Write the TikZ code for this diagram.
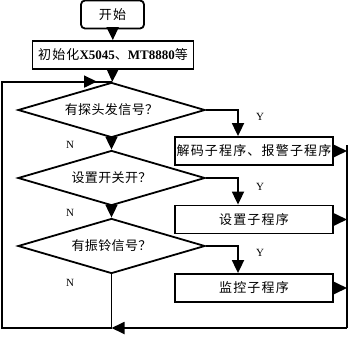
\documentclass[tikz,border=0pt]{standalone}
\usepackage{fontspec}
\setmainfont{Liberation Serif}
\newfontfamily\cjk[LetterSpace=3]{Noto Sans CJK SC}
\newfontfamily\cjkwide[LetterSpace=9]{Noto Sans CJK SC}
\usetikzlibrary{arrows.meta,shapes.geometric}
\tikzset{
  >={Triangle[length=13pt,width=12pt]},
  every node/.style={font=\fontsize{13}{15}\selectfont},
  proc/.style={draw,line width=1.8pt,minimum height=28pt,inner sep=0pt},
  startbox/.style={proc,rounded corners=4pt,minimum width=63pt},
  decide/.style={draw,diamond,line width=1.8pt,minimum width=187pt,minimum height=55pt,inner sep=0pt,aspect=3.4},
  flow/.style={->,line width=1.8pt},
  plain/.style={line width=1.8pt},
  yn/.style={font=\fontsize{11}{13}\selectfont},
}

\begin{document}
\begin{tikzpicture}[x=1pt,y=-1pt]
\useasboundingbox (0,0) rectangle (350,337);

% ---------- main column ----------
\node[startbox] (start) at (112.5,14.5) {\cjkwide 开始};
\node[proc,minimum width=161pt] (init) at (113,55) {{\cjkwide 初始化}{\bfseries X5045}{\cjk 、}{\bfseries MT8880}{\cjk 等}};
\node[decide] (d1) at (111.5,110) {\cjk 有探头发信号？};
\node[decide] (d2) at (111.5,178) {\cjk 设置开关开？};
\node[decide] (d3) at (111.5,246) {\cjk 有振铃信号？};

% ---------- sub programs ----------
\node[proc,minimum width=158pt] (b1) at (254,151) {\cjkwide 解码子程序、报警子程序};
\node[proc,minimum width=158pt] (b2) at (254,219.5) {\cjkwide 设置子程序};
\node[proc,minimum width=158pt] (b3) at (254,288) {\cjkwide 监控子程序};

\draw[flow] (start) -- (init);
\draw[flow] (init) -- (d1);
\draw[flow] (d1) -- (d2);
\draw[flow] (d2) -- (d3);
\draw[flow] (d1.east) -| ([xshift=-16pt]b1.north);
\draw[flow] (d2.east) -| ([xshift=-16pt]b2.north);
\draw[flow] (d3.east) -| ([xshift=-16pt]b3.north);

\node[yn] (y1) at (260,117) {Y};
\node[yn] (y2) at (260,187) {Y};
\node[yn] (y3) at (260,253) {Y};
\node[yn] (n1) at (70,145) {N};
\node[yn] (n2) at (70,213) {N};
\node[yn] (n3) at (70,283) {N};

% ---------- return loop ----------
\coordinate (busT) at (347,145);
\coordinate (busB) at (347,328);
\coordinate (join) at (d3.south |- busB);
\coordinate (loopL) at (2,328);
\coordinate (loopT) at (loopL |- d1.north);
\coordinate (loopM) at (97,0 |- d1.north);
\foreach \b in {b1,b2,b3} {\draw[flow] (\b.east) -- (\b.east -| busB);}
\draw[plain] (busT) -- (busB);
\draw[plain] (d3.south) -- (join);
\draw[flow] (busB) -- (join);
\draw[plain] (join) -- (loopL) -- (loopT) -- (d1.north);
\draw[flow] (loopT) -- (loopM);
\end{tikzpicture}
\end{document}
